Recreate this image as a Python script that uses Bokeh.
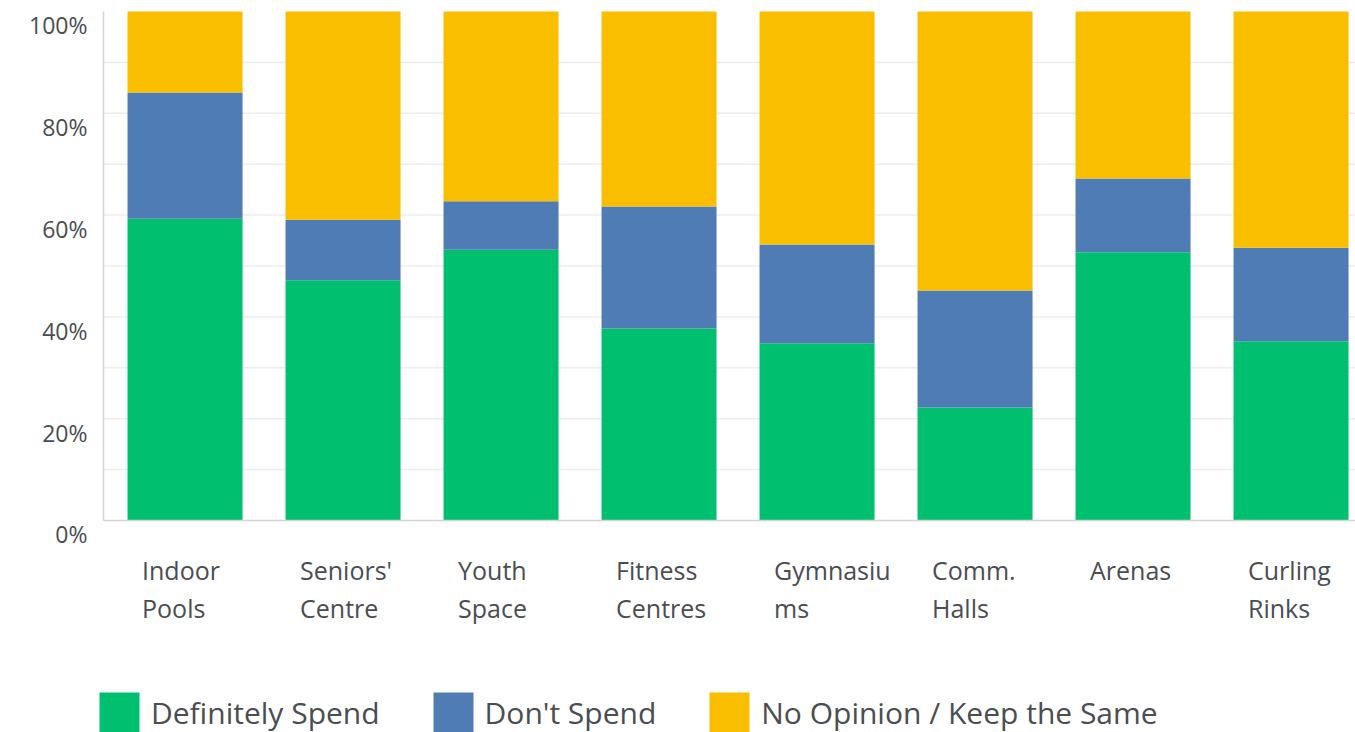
from bokeh.plotting import figure
from bokeh.models import ColumnDataSource, Range1d, Legend, LegendItem
from bokeh.core.properties import value
from bokeh.embed import file_html
from bokeh.resources import INLINE

# ---------------- data ----------------
categories = ["Indoor Pools", "Seniors' Centre", "Youth Space", "Fitness Centres",
              "Gymnasiums", "Comm. Halls", "Arenas", "Curling Rinks"]
label_line1 = ["Indoor", "Seniors'", "Youth", "Fitness", "Gymnasiu", "Comm.", "Arenas", "Curling"]
label_line2 = ["Pools", "Centre", "Space", "Centres", "ms", "Halls", "", "Rinks"]
definitely_spend = [59.3, 47.2, 53.2, 37.7, 34.8, 22.2, 52.7, 35.2]
dont_spend = [24.8, 11.9, 9.5, 24.0, 19.4, 23.0, 14.5, 18.4]
no_opinion = [15.9, 40.9, 37.3, 38.3, 45.8, 54.8, 32.8, 46.4]
series_names = ["Definitely Spend", "Don't Spend", "No Opinion / Keep the Same"]
y_tick_values = [0, 20, 40, 60, 80, 100]
y_tick_labels = ["0%", "20%", "40%", "60%", "80%", "100%"]
grid_values = [10, 20, 30, 40, 50, 60, 70, 80, 90]

# ---------------- layout / style ----------------
W, H = 1355, 732
colors = ["#00BF6F", "#507CB6", "#F9BE00"]
FONT = "Open Sans"
TEXT_COLOR = "#4a4d52"
LINE_COLOR = "#d4d4d4"
GRID_COLOR = "#ececec"

# the frame fills the whole canvas; the plotting area (0..100 %) sits inside it
x_lo, x_hi = -1.168, 7.408
y_lo, y_hi = -41.65, 102.16
area_left = -0.516          # left edge of the plotting area (x units)
y_min, y_max = 0, 100

x = list(range(len(categories)))
keys = ["ds", "dn", "no"]
source = ColumnDataSource(dict(x=x, ds=definitely_spend, dn=dont_spend, no=no_opinion))

p = figure(width=W, height=H, output_backend="svg", toolbar_location=None,
           x_range=Range1d(x_lo, x_hi), y_range=Range1d(y_lo, y_hi),
           min_border=0, min_border_left=0, min_border_right=0,
           min_border_top=0, min_border_bottom=0)
p.outline_line_color = None
p.axis.visible = False
p.grid.visible = False
p.background_fill_color = "white"
p.border_fill_color = "white"

# grid lines
n = len(grid_values)
p.segment(x0=[area_left] * n, y0=grid_values, x1=[x_hi] * n, y1=grid_values,
          line_color=GRID_COLOR, line_width=1.5)

renderers = p.vbar_stack(keys, x="x", width=0.728, color=colors, source=source,
                         line_color=None)

# axis lines
p.segment(x0=[area_left, area_left], y0=[y_min, y_min], x1=[area_left, x_hi], y1=[y_max, y_min],
          line_color=LINE_COLOR, line_width=1.5)

# y tick labels
p.text(x=[area_left] * len(y_tick_values), y=y_tick_values, text=y_tick_labels,
       x_offset=-16, y_offset=14, text_align="right", text_baseline="alphabetic",
       text_font=value(FONT), text_font_size=value("23px"), text_color=TEXT_COLOR)

# category labels (two lines, left aligned)
p.text(x=x, y=[y_min] * len(x), text=label_line1, x_offset=-43, y_offset=50,
       text_align="left", text_baseline="alphabetic",
       text_font=value(FONT), text_font_size=value("25px"), text_color=TEXT_COLOR)
p.text(x=x, y=[y_min] * len(x), text=label_line2, x_offset=-43, y_offset=88,
       text_align="left", text_baseline="alphabetic",
       text_font=value(FONT), text_font_size=value("25px"), text_color=TEXT_COLOR)

# legend
items = [LegendItem(label=name, renderers=[r]) for name, r in zip(series_names, renderers)]
legend = Legend(items=items, orientation="horizontal", location=(94, -5),
                glyph_width=50, glyph_height=50, label_standoff=7, spacing=48,
                padding=0, margin=0, border_line_color=None, background_fill_alpha=0,
                label_text_font=FONT, label_text_font_size="30px",
                label_text_color=TEXT_COLOR, label_height=50)
p.add_layout(legend, "center")

open("out.html", "w").write(file_html(p, INLINE))
